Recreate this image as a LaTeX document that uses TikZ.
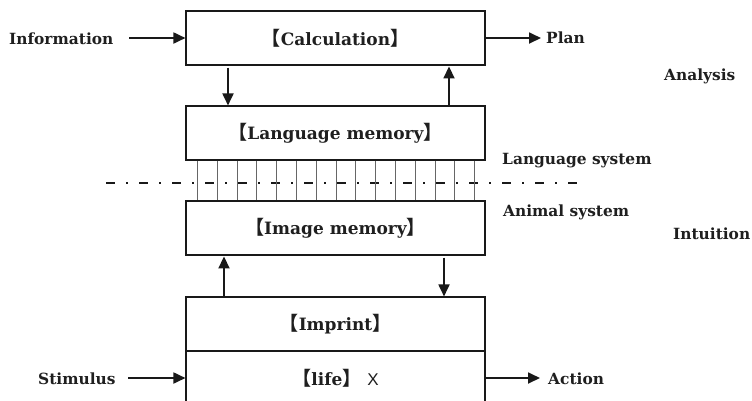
\documentclass[tikz,border=0pt]{standalone}
\usepackage{fontspec}
\setmainfont{DejaVu Serif}
\newfontfamily\cjk{Noto Sans CJK SC}
\newfontfamily\plainsans{Liberation Sans}
\usetikzlibrary{arrows.meta}
\newcommand{\lb}{{\cjk\bfseries\fontsize{19}{20}\selectfont 【}}
\newcommand{\rb}{{\cjk\bfseries\fontsize{19}{20}\selectfont 】}}
\tikzset{
  x=1pt, y=-1pt,
  every node/.style={font=\bfseries\fontsize{15.4}{18}\selectfont, text=black!88},
  layer/.style={draw=black!90, line width=1.1pt, minimum width=299pt, minimum height=54pt, inner sep=0pt,
                font=\bfseries\fontsize{17}{20}\selectfont},
  flow/.style={line width=1.8pt, draw=black!90, -{Triangle[length=12pt,width=11pt]}},
  tag/.style={anchor=west, inner sep=0pt},
  link/.style={draw=black!60, line width=0.8pt},
  divide/.style={line width=1.6pt, draw=black!90, dash pattern=on 9pt off 11pt on 2pt off 11pt}
}
\begin{document}
\begin{tikzpicture}
\clip (0,0) rectangle (752,400);
\fill[white] (0,0) rectangle (752,400);

% the stack of layers
\node[layer] (calc) at (335.5,38) {\lb Calculation\rb};
\node[layer] (lang) at (335.5,133) {\lb Language memory\rb};
\node[layer] (img) at (335.5,228) {\lb Image memory\rb};
\node[layer] (imprint) at (335.5,324) {\lb Imprint\rb};
\node[layer] (life) at (335.5,378) {\lb life\rb\ {\plainsans\mdseries X}};

% boundary between the two systems
\draw[divide] (106,183) -- (580,183);
\foreach \i in {0,...,14}
  \draw[link] (197.3+\i*19.8,0 |- lang.south) -- (197.3+\i*19.8,0 |- img.north);

% side labels
\node[tag] (info) at (9,39) {Information};
\node[tag] (plan) at (546,38) {Plan};
\node[tag] (analysis) at (664,76) {Analysis};
\node[tag] (langsys) at (502,161) {Language system};
\node[tag] (animsys) at (503,212) {Animal system};
\node[tag] (intu) at (673,234) {Intuition};
\node[tag] (stim) at (38,379) {Stimulus};
\node[tag] (act) at (548,379) {Action};

\coordinate (infoend) at (129,38);
\coordinate (planend) at (541,38);
\coordinate (stimend) at (128,378);
\coordinate (actend) at (540,378);

% flows
\draw[flow] (infoend) -- (calc.west);
\draw[flow] (calc.east) -- (planend);
\draw[flow] (228,0 |- calc.south) ++(0,2) -- (228,0 |- lang.north);
\draw[flow] (449,0 |- lang.north) -- ++(0,-39);
\draw[flow] (224,0 |- imprint.north) -- ++(0,-40);
\draw[flow] (444,0 |- img.south) ++(0,2) -- (444,0 |- imprint.north);
\draw[flow] (stimend) -- (life.west);
\draw[flow] (life.east) -- (actend);
\end{tikzpicture}
\end{document}
